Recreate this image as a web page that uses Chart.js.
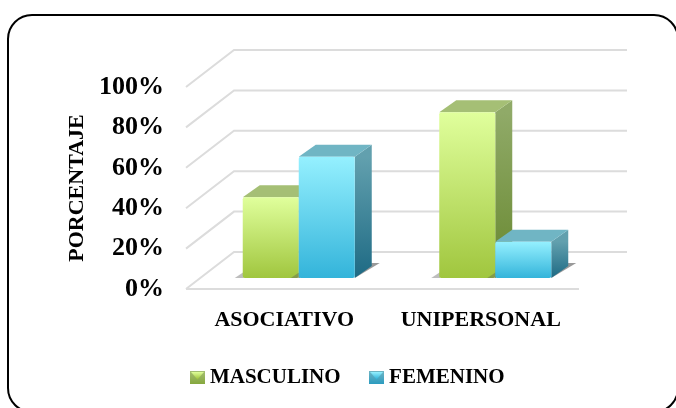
<!DOCTYPE html>
<html><head><meta charset="utf-8">
<style>html,body{margin:0;padding:0;background:#fff}#w{width:676px;height:408px;position:relative}</style>
<script src="https://cdn.jsdelivr.net/npm/chart.js@4"></script></head>
<body><div id="w"><canvas id="c" width="676" height="408"></canvas></div>
<script>
const categories = ["ASOCIATIVO", "UNIPERSONAL"];
const masculino = [40, 82];
const femenino = [60, 18];
const yTicks = [0, 20, 40, 60, 80, 100];
const FONT = '"Liberation Serif"';
const DEPTH = {x: 48, y: -37};     // wall depth
const BAR_D = {x: 17, y: -12};     // bar depth
const BAR_O = {x: 14.5, y: -11};   // bar plane inset
const PAL = [
 {top:'#e0ff9c', bot:'#a0c63e', sT:'#90aa68', sB:'#688830', cap:'#a5bf75', sw:'#86a83e'},
 {top:'#95f0ff', bot:'#33b4da', sT:'#62a0ae', sB:'#1e6a84', cap:'#70b5c4', sw:'#2c9cc0'}
];
function swatch(p){
  const w=15,h=13,c=document.createElement('canvas'); c.width=w;c.height=h;
  const x=c.getContext('2d');
  const g=x.createLinearGradient(0,0,0,h); g.addColorStop(0,p.cap); g.addColorStop(1,p.sw);
  x.fillStyle=g; x.fillRect(0,0,w,h);
  const t=x.createLinearGradient(0,1,0,8); t.addColorStop(0,p.top); t.addColorStop(1,p.bot);
  x.fillStyle=t; x.beginPath(); x.moveTo(1,1); x.lineTo(w-1,1); x.lineTo(w/2,h/2+2); x.closePath(); x.fill();
  return c;
}
const swatches = PAL.map(swatch);
function fillFor(i){
  return ctx=>{
    const ch=ctx.chart, y=ch.scales.y; const v=ctx.raw;
    if(v==null) return PAL[i].bot;
    const g=ch.ctx.createLinearGradient(0,y.getPixelForValue(v),0,y.getPixelForValue(0));
    g.addColorStop(0,PAL[i].top); g.addColorStop(1,PAL[i].bot); return g;
  };
}
function depthFaces(c,meta,p){
  meta.data.forEach(el=>{
    const l=el.x-el.width/2,r=el.x+el.width/2,t=el.y,b=el.base;
    c.fillStyle='rgba(70,70,70,.55)';
    c.beginPath(); c.moveTo(r,b); c.lineTo(r+BAR_D.x+8,b+BAR_D.y-3); c.lineTo(r+BAR_D.x,b+BAR_D.y-3); c.closePath(); c.fill();
    c.fillStyle='rgba(90,90,90,.4)';
    c.beginPath(); c.moveTo(l-8,b); c.lineTo(l+1,b); c.lineTo(l+1,b-6); c.closePath(); c.fill();
    const g=c.createLinearGradient(0,t,0,b); g.addColorStop(0,p.sT); g.addColorStop(1,p.sB);
    c.fillStyle=g;
    c.beginPath(); c.moveTo(r,t); c.lineTo(r+BAR_D.x,t+BAR_D.y); c.lineTo(r+BAR_D.x,b+BAR_D.y); c.lineTo(r,b); c.closePath(); c.fill();
    c.fillStyle=p.cap;
    c.beginPath(); c.moveTo(l,t); c.lineTo(l+BAR_D.x,t+BAR_D.y); c.lineTo(r+BAR_D.x,t+BAR_D.y); c.lineTo(r,t); c.closePath(); c.fill();
  });
}
const frame3d = {
  id:'frame3d',
  beforeDraw(ch){
    const c=ch.ctx,{left,right}=ch.chartArea,y=ch.scales.y;
    c.save();
    c.strokeStyle='#000'; c.lineWidth=2;
    c.beginPath(); c.roundRect(8,15,670,397,24); c.stroke();
    c.strokeStyle='#dcdcdc'; c.lineWidth=2;
    yTicks.forEach(v=>{
      const p=y.getPixelForValue(v);
      c.beginPath(); c.moveTo(left,p); c.lineTo(left+DEPTH.x,p+DEPTH.y); c.lineTo(right+DEPTH.x,p+DEPTH.y); c.stroke();
    });
    const b=y.getPixelForValue(0);
    c.beginPath(); c.moveTo(left,b); c.lineTo(right,b); c.stroke();
    c.restore();
  },
  beforeDatasetDraw(){ return false; },
  afterDatasetsDraw(ch){
    const c=ch.ctx;
    c.save();
    c.translate(BAR_O.x,BAR_O.y);
    ch.data.datasets.forEach((d,i)=>{
      const meta=ch.getDatasetMeta(i);
      depthFaces(c,meta,PAL[i]);
      meta.controller.draw();
    });
    c.restore();
  }
};
new Chart(document.getElementById('c'),{
  type:'bar',
  data:{labels:categories,datasets:[
    {label:'MASCULINO',data:masculino,backgroundColor:fillFor(0),borderRadius:2,borderSkipped:false},
    {label:'FEMENINO',data:femenino,backgroundColor:fillFor(1),borderRadius:2,borderSkipped:false}
  ]},
  options:{
    responsive:false,animation:false,
    layout:{padding:{top:87,left:24,right:0,bottom:10}},
    datasets:{bar:{categoryPercentage:0.57,barPercentage:1}},
    scales:{
      x:{grid:{display:false},border:{display:false},
         ticks:{color:'#000',padding:10,maxRotation:0,font:{family:FONT,weight:'bold',size:22}},
         afterFit(s){s.height=44;}},
      y:{min:0,max:100,grid:{display:false},border:{display:false},
         afterBuildTicks(s){s.ticks=yTicks.map(v=>({value:v}));},
         ticks:{color:'#000',padding:14,callback:v=>v+'%',font:{family:FONT,weight:'bold',size:26}},
         title:{display:true,text:'PORCENTAJE',color:'#000',padding:{top:40,bottom:0},font:{family:FONT,weight:'bold',size:22}},
         afterFit(s){s.width=162;}},
      y2:{position:'right',grid:{display:false},border:{display:false},ticks:{display:false},afterFit(s){s.width=97;}}
    },
    plugins:{
      tooltip:{enabled:false},
      legend:{position:'bottom',maxHeight:76,labels:{
        color:'#000',usePointStyle:true,boxWidth:4,padding:34,font:{family:FONT,weight:'bold',size:21},
        generateLabels(ch){return ch.data.datasets.map((d,i)=>({text:d.label,pointStyle:swatches[i],fontColor:'#000',datasetIndex:i,lineWidth:0}));}
      }}
    }
  },
  plugins:[frame3d]
});
</script></body></html>
